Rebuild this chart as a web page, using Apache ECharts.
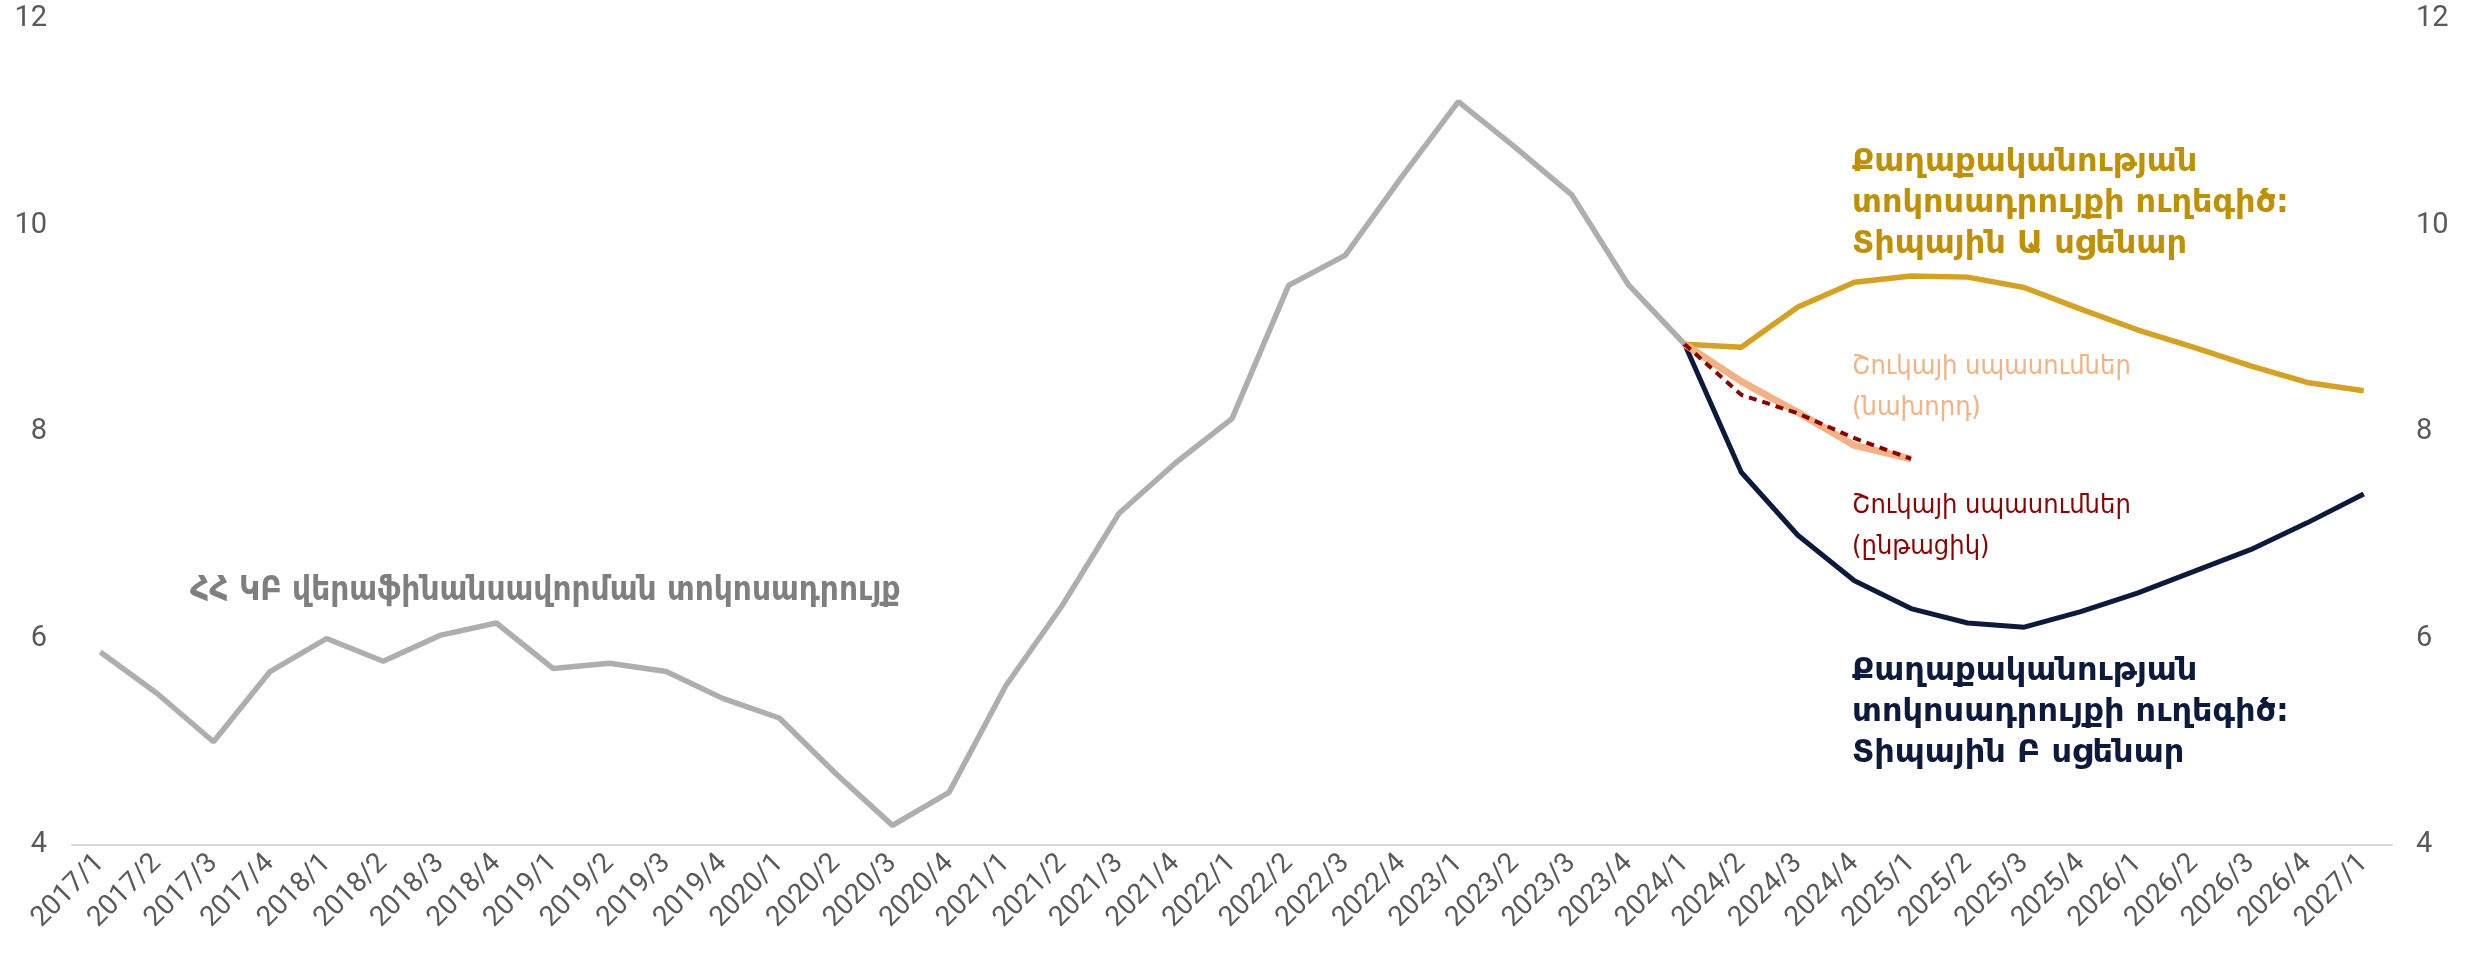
<!DOCTYPE html>
<html>
<head>
<meta charset="utf-8">
<script src="https://cdn.jsdelivr.net/npm/echarts@6/dist/echarts.min.js"></script>
<style>
html,body{margin:0;padding:0;background:#fff;}
#chart{width:2476px;height:962px;}
</style>
</head>
<body>
<div id="chart"></div>
<script>
const categories = ['2017/1','2017/2','2017/3','2017/4','2018/1','2018/2','2018/3','2018/4','2019/1','2019/2','2019/3','2019/4','2020/1','2020/2','2020/3','2020/4','2021/1','2021/2','2021/3','2021/4','2022/1','2022/2','2022/3','2022/4','2023/1','2023/2','2023/3','2023/4','2024/1','2024/2','2024/3','2024/4','2025/1','2025/2','2025/3','2025/4','2026/1','2026/2','2026/3','2026/4','2027/1'];

// ՀՀ ԿԲ վերաֆինանսավորման տոկոսադրույք (2017/1 – 2024/1)
const refiRate = [5.87,5.47,5.00,5.68,6.00,5.78,6.03,6.15,5.71,5.76,5.68,5.42,5.23,4.69,4.19,4.51,5.54,6.32,7.21,7.70,8.13,9.42,9.71,10.47,11.20,10.76,10.30,9.43,8.85];
// Scenario A path (2024/1 – 2027/1)
const scenarioA = [8.85,8.82,9.21,9.45,9.51,9.50,9.40,9.19,8.99,8.82,8.64,8.48,8.40];
// Scenario B path (2024/1 – 2027/1)
const scenarioB = [8.85,7.61,7.00,6.56,6.29,6.15,6.11,6.26,6.44,6.65,6.86,7.12,7.40];
// Market expectations previous (2024/1 – 2025/1)
const marketPrev = [8.85,8.49,8.19,7.87,7.74];
// Market expectations current (2024/1 – 2025/1)
const marketCurr = [8.85,8.36,8.18,7.94,7.74];

const yTicks = [4,6,8,10,12];

const forecastStart = refiRate.length - 1;
function pad(arr, start){
  const out = new Array(categories.length).fill(null);
  arr.forEach((v,i)=>{ out[start+i] = v; });
  return out;
}

const chart = echarts.init(document.getElementById('chart'), null, {renderer:'canvas'});
const tickFont = {fontFamily:'Roboto', fontSize:29, color:'#595959'};
const armBold = 'DejaVu Sans';
const armCond = 'DejaVu Sans Condensed';

chart.setOption({
  animation:false,
  backgroundColor:'#ffffff',
  grid:{left:72,right:84,top:19,bottom:117,containLabel:false},
  xAxis:{
    type:'category',
    data:categories,
    boundaryGap:true,
    axisLine:{show:true,lineStyle:{color:'#D9D9D9',width:2}},
    axisTick:{show:false},
    axisLabel:{interval:0,rotate:45,margin:14,fontFamily:'Roboto',fontSize:28,color:'#595959'},
    splitLine:{show:false}
  },
  yAxis:[
    {type:'value',min:yTicks[0],max:yTicks[yTicks.length-1],interval:2,position:'left',
     axisLine:{show:false},axisTick:{show:false},splitLine:{show:false},
     axisLabel:Object.assign({margin:25},tickFont)},
    {type:'value',min:yTicks[0],max:yTicks[yTicks.length-1],interval:2,position:'right',
     axisLine:{show:false},axisTick:{show:false},splitLine:{show:false},
     axisLabel:Object.assign({margin:24},tickFont)}
  ],
  series:[
    {name:'refi',type:'line',data:pad(refiRate,0),symbol:'none',
     lineStyle:{color:'#AEAEAE',width:5.5},z:2},
    {name:'scenA',type:'line',data:pad(scenarioA,forecastStart),symbol:'none',
     lineStyle:{color:'#D6A021',width:5.5},z:3},
    {name:'scenB',type:'line',data:pad(scenarioB,forecastStart),symbol:'none',
     lineStyle:{color:'#0C1A3E',width:5},z:3},
    {name:'mPrev',type:'line',data:pad(marketPrev,forecastStart),symbol:'none',
     lineStyle:{color:'#F4B183',width:7},z:4},
    {name:'mCurr',type:'line',data:pad(marketCurr,forecastStart),symbol:'none',
     lineStyle:{color:'#8B0000',width:4,type:[8,6]},z:5}
  ],
  graphic:[
    {type:'text',left:190,top:575,style:{text:'ՀՀ ԿԲ վերաֆինանսավորման տոկոսադրույք',fontFamily:armCond,fontWeight:'bold',fontSize:33,fill:'#7F7F7F'}},
    {type:'text',left:1852,top:142,style:{text:'Քաղաքականության\nտոկոսադրույքի ուղեգիծ:\nՏիպային Ա սցենար',fontFamily:armBold,fontWeight:'bold',fontSize:32,lineHeight:41,fill:'#BF9000'}},
    {type:'text',left:1852,top:346,style:{text:'Շուկայի սպասումներ\n(նախորդ)',fontFamily:armCond,fontSize:27,lineHeight:41,fill:'#F4B183'}},
    {type:'text',left:1852,top:485,style:{text:'Շուկայի սպասումներ\n(ընթացիկ)',fontFamily:armCond,fontSize:27,lineHeight:41,fill:'#8B0000'}},
    {type:'text',left:1852,top:651,style:{text:'Քաղաքականության\nտոկոսադրույքի ուղեգիծ:\nՏիպային Բ սցենար',fontFamily:armBold,fontWeight:'bold',fontSize:32,lineHeight:41,fill:'#0C1A3E'}}
  ]
});
</script>
</body>
</html>
